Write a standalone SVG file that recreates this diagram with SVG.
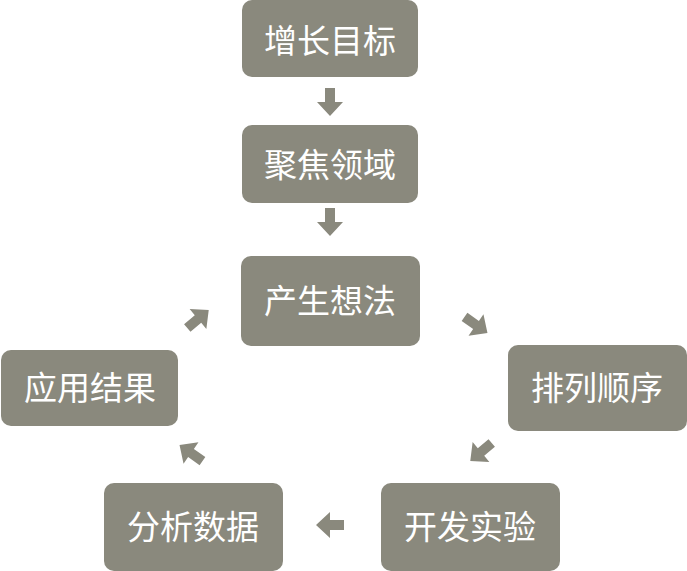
<svg xmlns="http://www.w3.org/2000/svg" width="687" height="571" viewBox="0 0 687 571">
<style>
.box{fill:#8a897d}
.lbl{font-family:"Noto Sans CJK SC","Noto Sans",sans-serif;font-size:33px;fill:#ffffff;text-anchor:middle;dominant-baseline:central}
.arr{fill:#8a897d}
</style>
<defs>
<path id="blk" d="M-14,-5 L0,-5 L0,-13 L14,0 L0,13 L0,5 L-14,5 Z"/>
</defs>
<rect width="687" height="571" fill="#ffffff"/>
<g id="n1"><rect class="box" x="242" y="0" width="176" height="77" rx="10"/><text class="lbl" x="330" y="39">增长目标</text></g>
<g id="n2"><rect class="box" x="242" y="125" width="176" height="78" rx="10"/><text class="lbl" x="330" y="163">聚焦领域</text></g>
<g id="n3"><rect class="box" x="241" y="256" width="179" height="90" rx="10"/><text class="lbl" x="330" y="299">产生想法</text></g>
<g id="n4"><rect class="box" x="508" y="345" width="179" height="86" rx="10"/><text class="lbl" x="597" y="386">排列顺序</text></g>
<g id="n5"><rect class="box" x="381" y="483" width="179" height="88" rx="10"/><text class="lbl" x="470" y="525">开发实验</text></g>
<g id="n6"><rect class="box" x="104" y="483" width="179" height="88" rx="10"/><text class="lbl" x="193" y="525">分析数据</text></g>
<g id="n7"><rect class="box" x="1" y="350" width="177" height="76" rx="10"/><text class="lbl" x="90" y="386">应用结果</text></g>
<g id="connectors" class="arr">
<use href="#blk" transform="translate(330,102) rotate(90)"/>
<use href="#blk" transform="translate(330,222) rotate(90)"/>
<use href="#blk" transform="translate(476,325) rotate(35)"/>
<use href="#blk" transform="translate(481,452) rotate(140)"/>
<use href="#blk" transform="translate(330,525) rotate(180)"/>
<use href="#blk" transform="translate(191,453) rotate(-145)"/>
<use href="#blk" transform="translate(198,319) rotate(-40)"/>
</g>
</svg>
